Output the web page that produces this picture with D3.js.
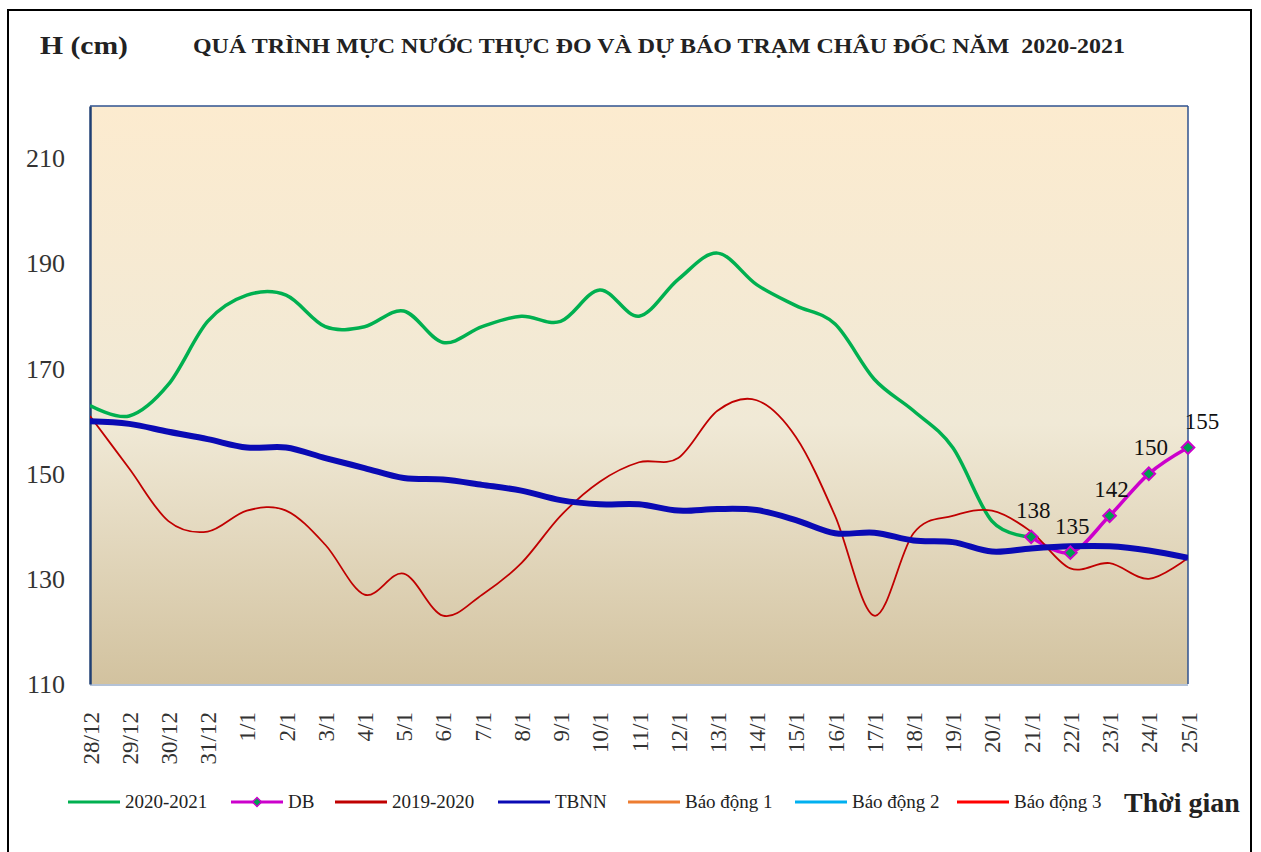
<!DOCTYPE html>
<html>
<head>
<meta charset="utf-8">
<script src="https://cdn.jsdelivr.net/npm/d3@7"></script>
<style>
  html, body { margin: 0; padding: 0; background: #fff; }
  svg { display: block; }
  text { font-family: "Liberation Serif", "Times New Roman", serif; }
</style>
</head>
<body>
<svg id="chart" width="1261" height="852"></svg>
<script>
// ---------------- DATA ----------------
const dates = ["28/12","29/12","30/12","31/12","1/1","2/1","3/1","4/1","5/1","6/1","7/1","8/1","9/1","10/1","11/1","12/1","13/1","14/1","15/1","16/1","17/1","18/1","19/1","20/1","21/1","22/1","23/1","24/1","25/1"];
const yTicks = [110, 130, 150, 170, 190, 210];

// 2020-2021 observed (ends at 21/1)
const obs2021 = [163,161,167,179,184,184,178,178,181,175,178,180,179,185,180,187,192,186,182,178.5,168,162,155,141,138];
// forecast DB (21/1 .. 25/1)
const dbDates = ["21/1","22/1","23/1","24/1","25/1"];
const dbValues = [138,135,142,150,155];
// 2019-2020
const y2020 = [161,151,141,139,143,143,136.5,127,131,123,127,133,142,148.5,152.2,153,162,164,157,142,123,138.7,142,143,139,132,133,130,134];
// TBNN (multi-year average)
const tbnn = [160,159.5,158,156.6,155,155,153,151.1,149.2,148.9,147.9,146.8,145,144.2,144.2,143,143.3,143.1,141.2,138.7,138.8,137.3,137,135.2,135.8,136.2,136.2,135.4,134];

const legendItems = [
  {name: "2020-2021", color: "#00B050", marker: false},
  {name: "DB", color: "#CC00CC", marker: true},
  {name: "2019-2020", color: "#C00000", marker: false},
  {name: "TBNN", color: "#0A0AB4", marker: false},
  {name: "Báo động 1", color: "#ED7D31", marker: false},
  {name: "Báo động 2", color: "#00B0F0", marker: false},
  {name: "Báo động 3", color: "#FF0000", marker: false}
];

// ---------------- LAYOUT ----------------
const svg = d3.select("#chart");
const W = 1261, H = 852;
const plot = {left: 90, right: 1188, top: 106, bottom: 684};

const x = d3.scalePoint().domain(dates).range([plot.left, plot.right]);
const y = d3.scaleLinear().domain([110, 220]).range([plot.bottom, plot.top]);

// outer frame
svg.append("rect").attr("x", 0).attr("y", 0).attr("width", W).attr("height", H).attr("fill", "#fff");
svg.append("rect").attr("x", 8).attr("y", 10).attr("width", 1243).attr("height", 860)
  .attr("fill", "none").attr("stroke", "#000").attr("stroke-width", 2);

// gradient
const defs = svg.append("defs");
const grad = defs.append("linearGradient").attr("id", "bg").attr("x1", 0).attr("y1", 0).attr("x2", 0).attr("y2", 1);
grad.append("stop").attr("offset", "0%").attr("stop-color", "#FCEBCF");
grad.append("stop").attr("offset", "55%").attr("stop-color", "#F0E9D6");
grad.append("stop").attr("offset", "100%").attr("stop-color", "#D2C29F");

defs.append("clipPath").attr("id", "clip").append("rect")
  .attr("x", plot.left).attr("y", plot.top)
  .attr("width", plot.right - plot.left).attr("height", plot.bottom - plot.top);

svg.append("rect").attr("x", plot.left).attr("y", plot.top)
  .attr("width", plot.right - plot.left).attr("height", plot.bottom - plot.top)
  .attr("fill", "url(#bg)");

// plot border
svg.append("line").attr("x1", plot.left).attr("x2", plot.right).attr("y1", plot.top).attr("y2", plot.top)
  .attr("stroke", "#2F528F").attr("stroke-width", 1.5);
svg.append("line").attr("x1", plot.right).attr("x2", plot.right).attr("y1", plot.top).attr("y2", plot.bottom)
  .attr("stroke", "#2F528F").attr("stroke-width", 1.5);
svg.append("line").attr("x1", plot.left).attr("x2", plot.right).attr("y1", plot.bottom + 1).attr("y2", plot.bottom + 1)
  .attr("stroke", "#B4C2D6").attr("stroke-width", 2);

// y axis
const yAxis = d3.axisLeft(y).tickValues(yTicks).tickSize(0).tickPadding(25);
const gy = svg.append("g").attr("transform", `translate(${plot.left},0)`).call(yAxis);
gy.select(".domain").attr("stroke", "#1F3F73").attr("stroke-width", 2.5);
gy.selectAll("text").attr("font-size", 26).attr("fill", "#333")
  .attr("font-family", "Liberation Serif, Times New Roman, serif");

// x axis
const xAxis = d3.axisBottom(x).tickSize(0).tickPadding(0);
const gx = svg.append("g").attr("transform", `translate(0,${plot.bottom})`).call(xAxis);
gx.select(".domain").remove();
gx.selectAll("text")
  .attr("font-size", 23).attr("fill", "#333")
  .attr("font-family", "Liberation Serif, Times New Roman, serif")
  .attr("text-anchor", "end")
  .attr("dy", null)
  .attr("y", 0)
  .attr("transform", "translate(8,28) rotate(-90)");

// lines
const curve = d3.curveCardinal.tension(0);
const g = svg.append("g").attr("clip-path", "url(#clip)");
const mk = (vals, dts) => d3.line().x((d, i) => x(dts[i])).y(d => y(d)).curve(curve)(vals);

g.append("path").attr("d", mk(obs2021, dates)).attr("fill", "none")
  .attr("stroke", "#00B050").attr("stroke-width", 3.5);
g.append("path").attr("d", mk(dbValues, dbDates)).attr("fill", "none")
  .attr("stroke", "#CC00CC").attr("stroke-width", 3.5);
g.append("path").attr("d", mk(y2020, dates)).attr("fill", "none")
  .attr("stroke", "#C00000").attr("stroke-width", 1.8);
g.append("path").attr("d", mk(tbnn, dates)).attr("fill", "none")
  .attr("stroke", "#0A0AB4").attr("stroke-width", 6);

// DB markers
svg.append("g").selectAll("path").data(dbValues).join("path")
  .attr("d", d3.symbol().type(d3.symbolSquare).size(80))
  .attr("transform", (d, i) => `translate(${x(dbDates[i])},${y(d)}) rotate(45)`)
  .attr("fill", "#00A050").attr("stroke", "#CC00CC").attr("stroke-width", 2);

// DB labels
const nDb = dbValues.length;
svg.append("g").selectAll("text").data(dbValues).join("text")
  .attr("x", (d, i) => x(dbDates[i]) + (i === nDb - 1 ? 14 : 2))
  .attr("y", d => y(d) - 19)
  .attr("text-anchor", "middle")
  .attr("font-size", 23).attr("fill", "#111")
  .text(d => d);

// titles
svg.append("text").attr("x", 40).attr("y", 54).attr("font-size", 26).attr("font-weight", "bold")
  .attr("fill", "#222").attr("textLength", 88).attr("lengthAdjust", "spacingAndGlyphs").text("H (cm)");
svg.append("text").attr("x", 193).attr("y", 53).attr("font-size", 22).attr("font-weight", "bold")
  .attr("fill", "#222").attr("textLength", 932).attr("lengthAdjust", "spacingAndGlyphs")
  .attr("xml:space", "preserve")
  .text("QUÁ TRÌNH MỰC NƯỚC THỰC ĐO VÀ DỰ BÁO TRẠM CHÂU ĐỐC NĂM  2020-2021");

// legend
const legendX = [68, 231, 335, 498, 628, 795, 957];
const legendY = 802;
const lg = svg.append("g");
legendItems.forEach((it, i) => {
  const lx = legendX[i];
  lg.append("line").attr("x1", lx).attr("x2", lx + 52).attr("y1", legendY).attr("y2", legendY)
    .attr("stroke", it.color).attr("stroke-width", 3);
  if (it.marker) {
    lg.append("path").attr("d", d3.symbol().type(d3.symbolSquare).size(40))
      .attr("transform", `translate(${lx + 26},${legendY}) rotate(45)`)
      .attr("fill", "#00A050").attr("stroke", "#CC00CC").attr("stroke-width", 1.5);
  }
  lg.append("text").attr("x", lx + 57).attr("y", legendY + 6)
    .attr("font-size", 19).attr("fill", "#222").text(it.name);
});
svg.append("text").attr("x", 1124).attr("y", 812).attr("font-size", 28).attr("font-weight", "bold")
  .attr("fill", "#222").text("Thời gian");
</script>
</body>
</html>
